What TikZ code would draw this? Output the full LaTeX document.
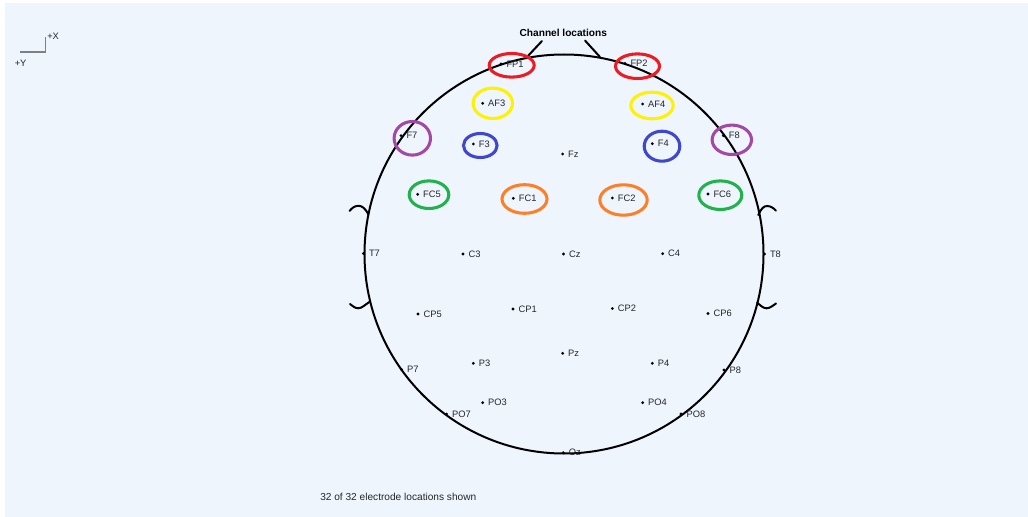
\documentclass[tikz,border=0pt]{standalone}
\usepackage{fontspec}
\setmainfont{Liberation Sans}
\definecolor{panel}{HTML}{EEF5FD}
\definecolor{ringred}{HTML}{ED1C24}
\definecolor{ringyellow}{HTML}{FFF200}
\definecolor{ringpurple}{HTML}{A349A4}
\definecolor{ringblue}{HTML}{3F48CC}
\definecolor{ringgreen}{HTML}{22B14C}
\definecolor{ringorange}{HTML}{FF7F27}
\begin{document}
\begin{tikzpicture}[x=0.75pt,y=-0.75pt,
  electrode/.style={circle,fill=black,inner sep=0pt,minimum size=2.3pt},
  elabel/.style={font=\fontsize{7}{8}\selectfont,text=black!85,inner sep=0pt},
  headline/.style={line width=1.5pt,line cap=round},
  axisline/.style={gray,line width=0.8pt},
  ring/.style={line width=2.3pt},
]
% canvas and panel
\useasboundingbox (0,0) rectangle (1028,517);
\fill[white] (0,0) rectangle (1028,517);
\fill[panel] (5,3) rectangle (1028,517);

% orientation indicator
\coordinate (ax0) at (20,52);
\coordinate (axc) at (45.7,52);
\coordinate (ax1) at (45.7,37);
\draw[axisline] (ax0) -- (axc) -- (ax1);
\node[elabel,anchor=west] (plusx) at (47,36) {+X};
\node[elabel,anchor=west] (plusy) at (14.5,63) {+Y};

% head outline
\draw[headline] (564,254) circle [radius=199.5];

% nose
\node[font=\bfseries\fontsize{7.6}{9}\selectfont,inner sep=0pt] (title) at (563.3,33) {Channel locations};
\coordinate (noseLt) at (542,41);
\coordinate (noseLb) at (527,57);
\coordinate (noseRt) at (585,40.5);
\coordinate (noseRb) at (600,57);
\draw[headline] (noseLt) -- (noseLb);
\draw[headline] (noseRt) -- (noseRb);

% ears
\draw[headline] (368.5,214.5) .. controls (365,208) and (362,205.8) .. (358.3,205.8)
  .. controls (354.5,205.8) and (351.5,208.5) .. (349.5,211);
\draw[headline] (370,301.5) .. controls (366,304) and (362,308.3) .. (358.3,308.3)
  .. controls (355,308.3) and (352,305.5) .. (350,304);
\draw[headline] (758.3,215) .. controls (761,209) and (763.5,206) .. (767,206)
  .. controls (771,206) and (774,208.5) .. (776,210.7);
\draw[headline] (757,302.5) .. controls (760,305) and (763,308.3) .. (766.5,308.3)
  .. controls (770,308.3) and (773,305.5) .. (776,303.5);

% electrodes
\foreach \name/\px/\py in {
  FP1/501/64, FP2/625/63.5, AF3/482.7/103.3, AF4/642.7/104,
  F7/401/135.7, F3/473.3/144, Fz/562.7/154, F4/652.3/143.7, F8/723.3/135.7,
  FC5/417.7/194.3, FC1/513.3/198.3, FC2/612.3/198, FC6/708/194,
  T7/363.5/253.5, C3/463/254, Cz/563.5/254, C4/662.7/253.7, T8/764.5/254,
  CP5/418/314, CP1/513/309, CP2/612.3/308.5, CP6/708/313.5,
  P7/401.5/369.5, P3/473.3/363.3, Pz/562.7/353.3, P4/652.3/363.3, P8/724/370,
  PO7/446.7/414, PO3/482.7/402.7, PO4/642.7/402.7, PO8/681/414,
  Oz/563.3/452.7}
  \node[electrode,label={[elabel,label distance=2.6pt]0:\name}] (\name) at (\px,\py) {};

% highlighted channel pairs
\draw[ring,ringred]    (511.7,65.3)  ellipse [x radius=22.5, y radius=11.8];
\draw[ring,ringred]    (637.5,66.2)  ellipse [x radius=22,   y radius=12.3];
\draw[ring,ringyellow] (492.8,103.3) ellipse [x radius=19.7, y radius=15.2];
\draw[ring,ringyellow] (652,105.5)   ellipse [x radius=21.2, y radius=13.3];
\draw[ring,ringpurple] (412.3,138.3) ellipse [x radius=18.2, y radius=16.8];
\draw[ring,ringpurple] (731.8,139.8) ellipse [x radius=19.7, y radius=14.7];
\draw[ring,ringblue]   (480.3,145.5) ellipse [x radius=16.8, y radius=12];
\draw[ring,ringblue]   (662,146.2)   ellipse [x radius=17.8, y radius=15];
\draw[ring,ringgreen]  (429,194.7)   ellipse [x radius=19.8, y radius=13.8];
\draw[ring,ringgreen]  (720.3,195.2) ellipse [x radius=21.5, y radius=14.3];
\draw[ring,ringorange] (524.5,199)   ellipse [x radius=22.5, y radius=14.3];
\draw[ring,ringorange] (623.5,200)   ellipse [x radius=23.7, y radius=15.2];

% footer
\node[font=\fontsize{7.6}{9}\selectfont,text=black!85,inner sep=0pt,anchor=west] (footer) at (320,497) {32 of 32 electrode locations shown};
\end{tikzpicture}
\end{document}
